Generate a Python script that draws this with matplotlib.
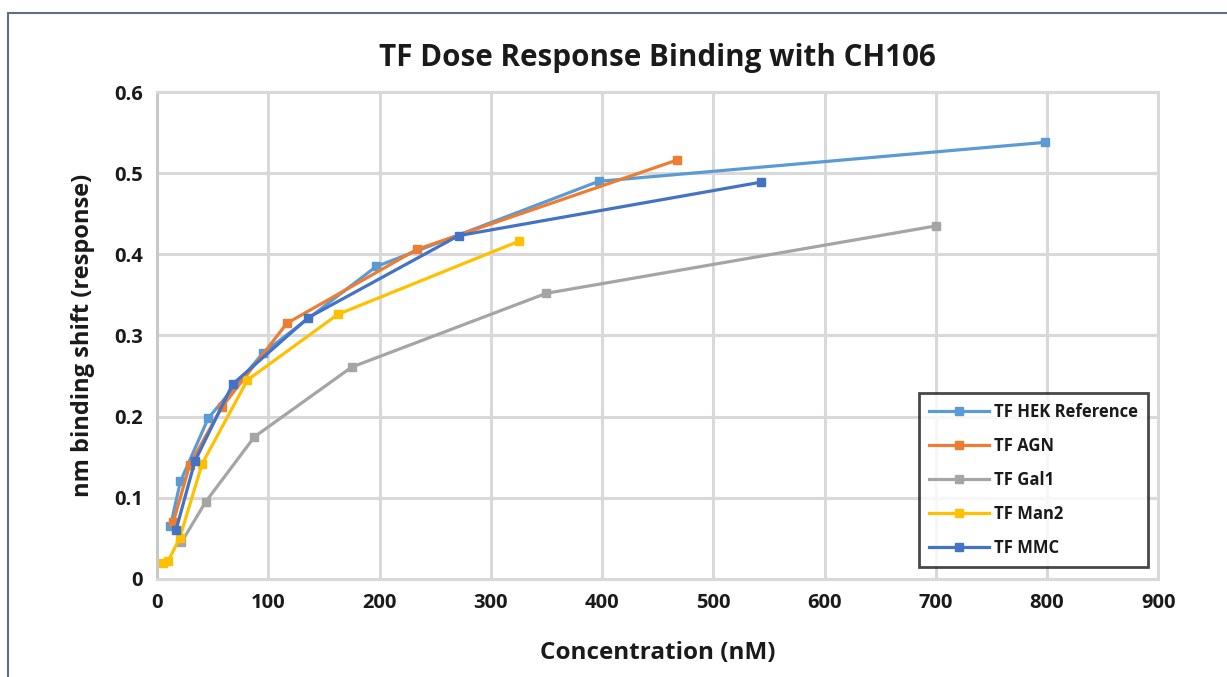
import matplotlib
matplotlib.use('Agg')
import matplotlib.pyplot as plt
from matplotlib.patches import Rectangle

# data
hek_x = [12, 21, 46, 95, 197, 397, 798]
hek_y = [0.065, 0.12, 0.198, 0.278, 0.385, 0.49, 0.538]

agn_x = [14.6, 29.2, 58.4, 116.7, 233.5, 467]
agn_y = [0.07, 0.14, 0.212, 0.315, 0.406, 0.516]

gal_x = [21.9, 43.75, 87.5, 175, 350, 700]
gal_y = [0.045, 0.095, 0.175, 0.261, 0.352, 0.435]

man_x = [5, 10, 20.3, 40.6, 81.25, 162.5, 325]
man_y = [0.02, 0.022, 0.05, 0.142, 0.245, 0.326, 0.416]

mmc_x = [17, 34, 68, 136, 271, 543]
mmc_y = [0.06, 0.145, 0.24, 0.322, 0.423, 0.489]

series = [
    ("TF HEK Reference", hek_x, hek_y, "#5B9BD5"),
    ("TF AGN", agn_x, agn_y, "#ED7D31"),
    ("TF Gal1", gal_x, gal_y, "#A5A5A5"),
    ("TF Man2", man_x, man_y, "#FFC000"),
    ("TF MMC", mmc_x, mmc_y, "#4472C4"),
]

plt.rcParams['font.family'] = ['Open Sans', 'DejaVu Sans']
plt.rcParams['font.weight'] = 'bold'

fig = plt.figure(figsize=(12.27, 6.77), dpi=100)
ax = fig.add_axes([0.128, 0.145, 0.816, 0.719])

# outer frame of the figure
fig.patches.append(Rectangle((0.0065, -0.1), 1.2, 1.081, transform=fig.transFigure,
                             fill=False, edgecolor="#5F6F8A", linewidth=1.5))

for name, xs, ys, col in series:
    ax.plot(xs, ys, color=col, linewidth=2.3, marker='s', markersize=6, label=name)

ax.set_xlim(0, 900)
ax.set_ylim(0, 0.6)
ax.set_xticks(range(0, 1000, 100))
ax.set_yticks([0, 0.1, 0.2, 0.3, 0.4, 0.5, 0.6])
ax.set_yticklabels(["0", "0.1", "0.2", "0.3", "0.4", "0.5", "0.6"])
ax.grid(True, color="#D9D9D9", linewidth=2.2)
ax.set_axisbelow(True)
for s in ax.spines.values():
    s.set_color("#D9D9D9")
    s.set_linewidth(2.2)
ax.spines['left'].set_color("#C8C8C8")
ax.tick_params(length=0, labelsize=14.5, pad=10, colors="#1A1A1A")
for lab in ax.get_xticklabels() + ax.get_yticklabels():
    lab.set_fontweight('bold')

ax.set_title("TF Dose Response Binding with CH106", fontsize=21.3, fontweight='bold',
             color="#1A1A1A", pad=19)
ax.set_xlabel("Concentration (nM)", fontsize=17.5, fontweight='bold', color="#1A1A1A", labelpad=20)
ax.set_ylabel("nm binding shift (response)", fontsize=17, fontweight='bold', color="#1A1A1A", labelpad=14)

leg = ax.legend(loc='lower right', bbox_to_anchor=(0.9985, 0.008), fontsize=12,
                frameon=True, fancybox=False, handlelength=3.6, handletextpad=0.3,
                labelspacing=0.95, borderpad=0.6)
leg.get_frame().set_edgecolor("#1A1A1A")
leg.get_frame().set_linewidth(2)
for t in leg.get_texts():
    t.set_fontweight('bold')
    t.set_color("#1A1A1A")

fig.savefig("out.png", dpi=100)
